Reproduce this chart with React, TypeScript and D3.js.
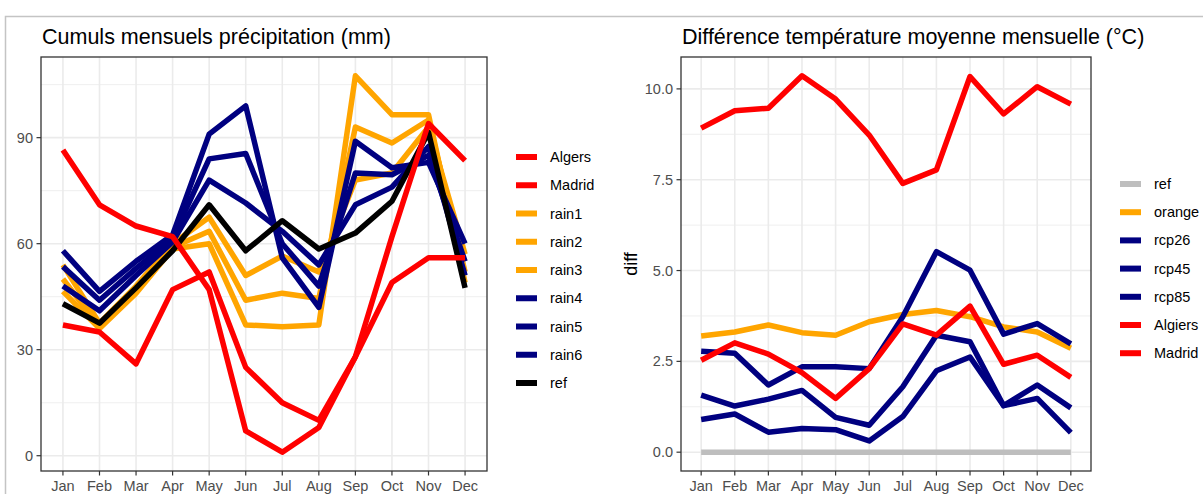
import React from 'react';
import * as d3 from 'd3';

const months = ['Jan', 'Feb', 'Mar', 'Apr', 'May', 'Jun', 'Jul', 'Aug', 'Sep', 'Oct', 'Nov', 'Dec'];

// Cumuls mensuels précipitation (mm)
const algers = [86.5, 71, 65, 62, 47, 7, 1, 8, 28, 62, 94, 83.5];
const madrid = [37, 35, 26, 47, 52, 25, 15, 10, 28, 49, 56, 56];
const rain1 = [54, 37.5, 48, 60, 67.5, 51, 56.5, 52, 78, 80, 93, 57];
const rain2 = [50, 36.5, 47, 59, 63.5, 44, 46, 44.5, 93, 88.5, 95, 52];
const rain3 = [46.5, 36, 46, 58.5, 60, 37, 36.5, 37, 107.5, 96.5, 96.5, 49];
const rain4 = [58, 46.5, 55, 62.5, 91, 99, 56, 42, 89, 81.5, 83, 60];
const rain5 = [53.5, 44, 53, 61.5, 84, 85.5, 60, 48, 80, 79.5, 85, 55];
const rain6 = [48, 41, 51, 60.5, 78, 71.5, 63.5, 54, 71, 76, 87.5, 51];
const refRain = [43, 37.5, 47.5, 58, 71, 58, 66.5, 58.5, 63, 72, 91.5, 47.5];
const rainTicks = [0, 30, 60, 90];

// Différence température moyenne mensuelle (°C)
const refDiff = [0, 0, 0, 0, 0, 0, 0, 0, 0, 0, 0, 0];
const orangeDiff = [3.2, 3.31, 3.5, 3.29, 3.22, 3.59, 3.79, 3.9, 3.73, 3.45, 3.31, 2.86];
const rcp26 = [0.9, 1.05, 0.55, 0.65, 0.62, 0.31, 0.98, 2.24, 2.62, 1.28, 1.48, 0.54];
const rcp45 = [1.57, 1.27, 1.46, 1.7, 0.96, 0.74, 1.8, 3.22, 3.04, 1.28, 1.85, 1.22];
const rcp85 = [2.78, 2.72, 1.85, 2.35, 2.35, 2.3, 3.73, 5.52, 5.01, 3.25, 3.54, 2.98];
const algiersDiff = [8.92, 9.4, 9.47, 10.36, 9.72, 8.73, 7.4, 7.77, 10.34, 9.31, 10.06, 9.58];
const madridDiff = [2.53, 3.01, 2.7, 2.19, 1.48, 2.3, 3.53, 3.22, 4.02, 2.42, 2.67, 2.06];
const diffTicks = [0, 2.5, 5, 7.5, 10];

const RED = '#FF0000';
const ORANGE = '#FFA500';
const BLUE = '#000080';

interface Series {
  name: string;
  values: number[];
  color: string;
}

// drawing order (last on top)
const rainSeries: Series[] = [
  { name: 'rain1', values: rain1, color: ORANGE },
  { name: 'rain2', values: rain2, color: ORANGE },
  { name: 'rain3', values: rain3, color: ORANGE },
  { name: 'rain4', values: rain4, color: BLUE },
  { name: 'rain5', values: rain5, color: BLUE },
  { name: 'rain6', values: rain6, color: BLUE },
  { name: 'ref', values: refRain, color: '#000000' },
  { name: 'Algers', values: algers, color: RED },
  { name: 'Madrid', values: madrid, color: RED },
];
const rainLegend = ['Algers', 'Madrid', 'rain1', 'rain2', 'rain3', 'rain4', 'rain5', 'rain6', 'ref'];

const diffSeries: Series[] = [
  { name: 'ref', values: refDiff, color: '#BEBEBE' },
  { name: 'orange', values: orangeDiff, color: ORANGE },
  { name: 'rcp26', values: rcp26, color: BLUE },
  { name: 'rcp45', values: rcp45, color: BLUE },
  { name: 'rcp85', values: rcp85, color: BLUE },
  { name: 'Algiers', values: algiersDiff, color: RED },
  { name: 'Madrid', values: madridDiff, color: RED },
];
const diffLegend = ['ref', 'orange', 'rcp26', 'rcp45', 'rcp85', 'Algiers', 'Madrid'];

const FONT = '"Liberation Sans", Arial, Helvetica, sans-serif';
const AXIS_TEXT = '#4D4D4D';

interface PanelProps {
  title: string;
  series: Series[];
  legend: string[];
  ticks: number[];
  tickFormat: (v: number) => string;
  left: number;
  right: number;
  top: number;
  bottom: number;
  legendTop: number;
  legendStep: number;
  yTitle?: string;
}

const Panel = ({ title, series, legend, ticks, tickFormat, left, right, top, bottom, legendTop, legendStep, yTitle }: PanelProps) => {
  const x = d3.scalePoint<string>().domain(months).range([left, right]).padding(0.6);

  const all = series.flatMap(s => s.values);
  const [lo, hi] = d3.extent(all) as [number, number];
  const pad = (hi - lo) * 0.05;
  const y = d3.scaleLinear().domain([lo - pad, hi + pad]).range([bottom, top]);

  const minor = ticks.slice(0, -1).map((t, i) => (t + ticks[i + 1]) / 2);
  const step = ticks[1] - ticks[0];
  if (y.invert(top) > ticks[ticks.length - 1] + step / 2) minor.push(ticks[ticks.length - 1] + step / 2);

  const line = d3
    .line<number>()
    .x((_, i) => x(months[i]) as number)
    .y(d => y(d));

  const colorOf = (name: string) => series.find(s => s.name === name)?.color ?? '#000';

  return (
    <g>
      <text x={left + 1} y={44} fontSize={21.5} fill="#000" fontFamily={FONT}>
        {title}
      </text>
      <clipPath id={`clip-${left}`}>
        <rect x={left} y={top} width={right - left} height={bottom - top} />
      </clipPath>
      <rect x={left} y={top} width={right - left} height={bottom - top} fill="#fff" />
      {minor.map(t => (
        <line key={`mn${t}`} x1={left} x2={right} y1={y(t)} y2={y(t)} stroke="#EBEBEB" strokeWidth={0.8} />
      ))}
      {ticks.map(t => (
        <line key={`mj${t}`} x1={left} x2={right} y1={y(t)} y2={y(t)} stroke="#EBEBEB" strokeWidth={1.6} />
      ))}
      {months.map(m => (
        <line key={`v${m}`} x1={x(m)} x2={x(m)} y1={top} y2={bottom} stroke="#EBEBEB" strokeWidth={1.6} />
      ))}
      <g clipPath={`url(#clip-${left})`}>
        {series.map(s => (
          <path
            key={s.name}
            d={line(s.values) || undefined}
            fill="none"
            stroke={s.color}
            strokeWidth={5.5}
            strokeLinejoin="round"
          />
        ))}
      </g>
      <rect x={left} y={top} width={right - left} height={bottom - top} fill="none" stroke="#333333" strokeWidth={1.3} />
      {ticks.map(t => (
        <g key={`yt${t}`}>
          <line x1={left - 4.5} x2={left} y1={y(t)} y2={y(t)} stroke="#333333" strokeWidth={1.2} />
          <text
            x={left - 8}
            y={y(t)}
            textAnchor="end"
            dominantBaseline="central"
            fontSize={14.5}
            fill={AXIS_TEXT}
            fontFamily={FONT}
          >
            {tickFormat(t)}
          </text>
        </g>
      ))}
      {months.map(m => (
        <g key={`xt${m}`}>
          <line x1={x(m)} x2={x(m)} y1={bottom} y2={bottom + 4.5} stroke="#333333" strokeWidth={1.2} />
          <text x={x(m)} y={bottom + 19.5} textAnchor="middle" fontSize={14.5} fill={AXIS_TEXT} fontFamily={FONT}>
            {m}
          </text>
        </g>
      ))}
      {yTitle && (
        <text
          transform={`translate(${left - 50},${(top + bottom) / 2}) rotate(-90)`}
          textAnchor="middle"
          dominantBaseline="central"
          fontSize={18}
          fill="#000"
          fontFamily={FONT}
        >
          {yTitle}
        </text>
      )}
      {legend.map((name, i) => {
        const ly = legendTop + i * legendStep;
        return (
          <g key={`lg${name}`}>
            <line x1={right + 29} x2={right + 50} y1={ly} y2={ly} stroke={colorOf(name)} strokeWidth={6} />
            <text x={right + 63} y={ly} dominantBaseline="central" fontSize={14.5} fill="#000" fontFamily={FONT}>
              {name}
            </text>
          </g>
        );
      })}
    </g>
  );
};

const App = () => {
  return (
    <svg width={1203} height={494} style={{ position: 'absolute', left: 0, top: 0, background: '#fff' }}>
      <rect x={0} y={0} width={1203} height={494} fill="#fff" />
      <path d="M5.5,494 V16.5 H1203" fill="none" stroke="#C4C4C4" strokeWidth={1.5} />
      <Panel
        title="Cumuls mensuels précipitation (mm)"
        series={rainSeries}
        legend={rainLegend}
        ticks={rainTicks}
        tickFormat={d3.format('d')}
        left={41}
        right={487}
        top={57}
        bottom={471}
        legendTop={157}
        legendStep={28.25}
      />
      <Panel
        title="Différence température moyenne mensuelle (°C)"
        series={diffSeries}
        legend={diffLegend}
        ticks={diffTicks}
        tickFormat={d3.format('.1f')}
        left={681}
        right={1091}
        top={57}
        bottom={471}
        legendTop={184}
        legendStep={28.2}
        yTitle="diff"
      />
    </svg>
  );
};

export default App;
